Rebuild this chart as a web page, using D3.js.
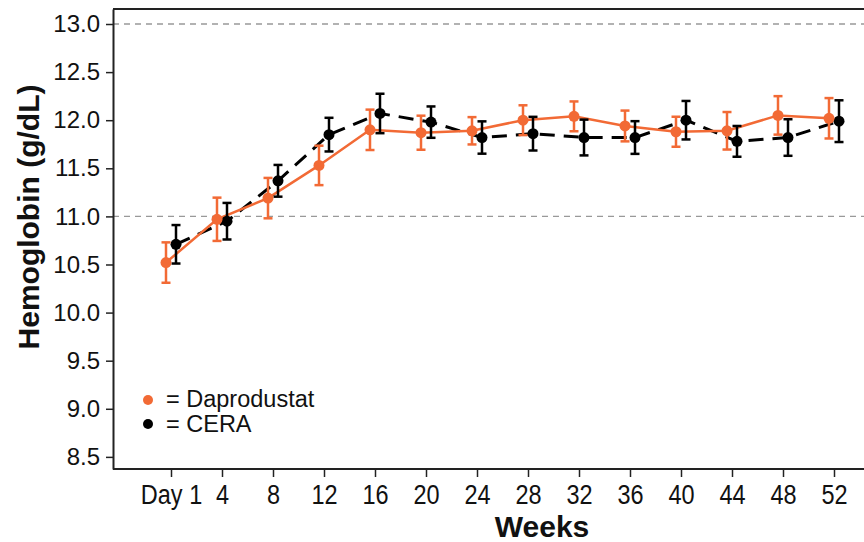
<!DOCTYPE html>
<html>
<head>
<meta charset="utf-8">
<script src="https://cdn.jsdelivr.net/npm/d3@7"></script>
<style>
  html, body { margin: 0; padding: 0; background: #fff; }
  svg { display: block; font-family: "Liberation Sans", Arial, sans-serif; }
</style>
</head>
<body>
<svg id="chart" width="864" height="542"></svg>
<script>
// ---- data ----
const categories = ["Day 1", "4", "8", "12", "16", "20", "24", "28", "32", "36", "40", "44", "48", "52"];
const dapMean = [10.52, 10.97, 11.19, 11.53, 11.90, 11.87, 11.89, 12.00, 12.04, 11.94, 11.88, 11.89, 12.05, 12.02];
const dapErr  = [0.21, 0.225, 0.21, 0.205, 0.21, 0.177, 0.142, 0.155, 0.155, 0.16, 0.156, 0.195, 0.20, 0.21];
const ceraMean = [10.71, 10.95, 11.37, 11.85, 12.07, 11.98, 11.82, 11.86, 11.82, 11.82, 12.00, 11.78, 11.82, 11.99];
const ceraErr  = [0.20, 0.19, 0.165, 0.175, 0.205, 0.163, 0.168, 0.175, 0.186, 0.17, 0.20, 0.16, 0.19, 0.217];
const yTicks = [8.5, 9.0, 9.5, 10.0, 10.5, 11.0, 11.5, 12.0, 12.5, 13.0];
const refLines = [11.0, 13.0];
const seriesNames = ["Daprodustat", "CERA"];

(function () {
// ---- layout ----
const pL = 113, pT = 9, pB = 469, pR = 864;
const orange = "#F26A35", black = "#000000";

const svg = d3.select("#chart");

const x = d3.scalePoint().domain(categories).range([171, 834]);
const y = d3.scaleLinear().domain([8.374, 13.156]).range([pB, pT]);
const off = 5;

// reference dashed lines
svg.selectAll("line.ref").data(refLines).join("line")
  .attr("class", "ref")
  .attr("x1", pL).attr("x2", pR)
  .attr("y1", d => y(d)).attr("y2", d => y(d))
  .attr("stroke", "#999").attr("stroke-width", 1.3)
  .attr("stroke-dasharray", "6,5");

// top border
svg.append("line").attr("x1", pL).attr("x2", pR).attr("y1", pT).attr("y2", pT)
  .attr("stroke", "#222").attr("stroke-width", 2);

// y axis
const yAxis = d3.axisLeft(y).tickValues(yTicks).tickFormat(d3.format(".1f"))
  .tickSize(7).tickSizeOuter(0).tickPadding(6);
const gy = svg.append("g").attr("transform", `translate(${pL},0)`).call(yAxis);
gy.select(".domain").attr("stroke", "#222").attr("stroke-width", 2);
gy.selectAll(".tick line").attr("stroke", "#222").attr("stroke-width", 1.5);
gy.selectAll(".tick text").attr("font-size", 24).attr("fill", "#111")
  .attr("font-family", "'Liberation Sans', Arial, sans-serif");

// x axis
svg.append("line").attr("x1", pL).attr("x2", pR).attr("y1", pB).attr("y2", pB)
  .attr("stroke", "#222").attr("stroke-width", 2);
const xAxis = d3.axisBottom(x).tickSize(8).tickSizeOuter(0).tickPadding(7);
const gx = svg.append("g").attr("transform", `translate(0,${pB})`).call(xAxis);
gx.select(".domain").remove();
gx.selectAll(".tick line").attr("stroke", "#222").attr("stroke-width", 1.5);
gx.selectAll(".tick text").attr("font-size", 28).attr("fill", "#111")
  .attr("font-family", "'Liberation Sans', Arial, sans-serif")
  .attr("transform", "scale(0.84,1)");

// axis titles
svg.append("text").attr("x", 542).attr("y", 537).attr("text-anchor", "middle")
  .attr("font-size", 30).attr("font-weight", "bold").attr("fill", "#111").text("Weeks");
svg.append("text").attr("transform", "translate(38.5,217) rotate(-90)")
  .attr("text-anchor", "middle").attr("font-size", 30).attr("font-weight", "bold")
  .attr("fill", "#111").text("Hemoglobin (g/dL)");

// series
const series = [
  { name: seriesNames[1], mean: ceraMean, err: ceraErr, color: black, dx: off, dash: "15,9", width: 3 },
  { name: seriesNames[0], mean: dapMean, err: dapErr, color: orange, dx: -off, dash: null, width: 2.5 }
];

const line = d3.line().x(d => d.x).y(d => d.y);

series.forEach(s => {
  const pts = categories.map((c, i) => ({ x: x(c) + s.dx, y: y(s.mean[i]), lo: y(s.mean[i] - s.err[i]), hi: y(s.mean[i] + s.err[i]) }));
  s.pts = pts;
  svg.append("path").datum(pts).attr("d", line)
    .attr("fill", "none").attr("stroke", s.color).attr("stroke-width", s.width)
    .attr("stroke-dasharray", s.dash);
});

series.forEach(s => {
  const g = svg.append("g");
  const cap = 4.5;
  g.selectAll("line.v").data(s.pts).join("line").attr("class", "v")
    .attr("x1", d => d.x).attr("x2", d => d.x).attr("y1", d => d.lo).attr("y2", d => d.hi)
    .attr("stroke", s.color).attr("stroke-width", 2.5);
  g.selectAll("line.t").data(s.pts).join("line").attr("class", "t")
    .attr("x1", d => d.x - cap).attr("x2", d => d.x + cap).attr("y1", d => d.hi).attr("y2", d => d.hi)
    .attr("stroke", s.color).attr("stroke-width", 2.5);
  g.selectAll("line.b").data(s.pts).join("line").attr("class", "b")
    .attr("x1", d => d.x - cap).attr("x2", d => d.x + cap).attr("y1", d => d.lo).attr("y2", d => d.lo)
    .attr("stroke", s.color).attr("stroke-width", 2.5);
  g.selectAll("circle").data(s.pts).join("circle")
    .attr("cx", d => d.x).attr("cy", d => d.y).attr("r", 5.5).attr("fill", s.color);
});

// legend
const legend = [
  { label: "= " + seriesNames[0], color: orange },
  { label: "= " + seriesNames[1], color: black }
];
const lg = svg.append("g");
legend.forEach((d, i) => {
  lg.append("circle").attr("cx", 148).attr("cy", 400 + i * 24).attr("r", 5).attr("fill", d.color);
  lg.append("text").attr("x", 166).attr("y", 407 + i * 25).attr("font-size", 23.5)
    .attr("fill", "#111").text(d.label);
});
})();
</script>
</body>
</html>
